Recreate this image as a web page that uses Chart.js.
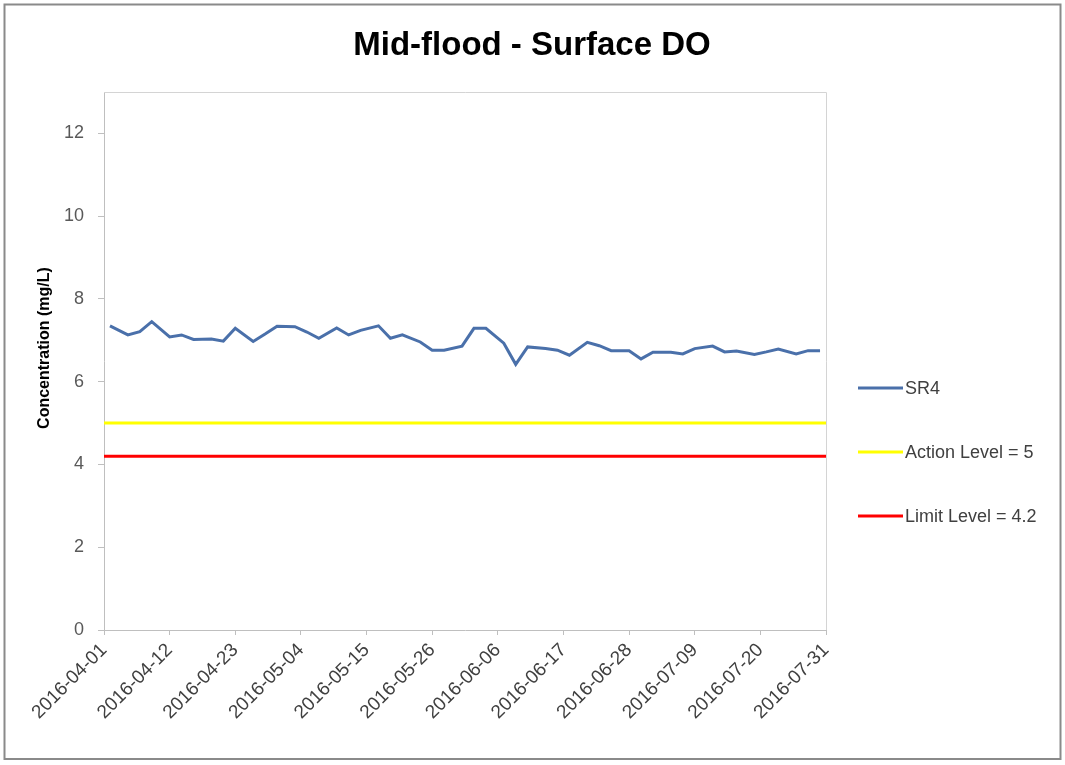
<!DOCTYPE html>
<html>
<head>
<meta charset="utf-8">
<title>Mid-flood - Surface DO</title>
<script src="https://cdn.jsdelivr.net/npm/chart.js@4.4.1/dist/chart.umd.min.js"></script>
<style>
    html, body { margin: 0; padding: 0; background: #fff; }
    #wrap { width: 1065px; height: 765px; }
</style>
</head>
<body>
<div id="wrap"><canvas id="doChart" width="1065" height="765"></canvas></div>
<script>
/* Mid-flood surface dissolved oxygen, station SR4 */

const sampleDates = [
    '2016-04-02', '2016-04-05', '2016-04-07', '2016-04-09', '2016-04-12', '2016-04-14',
    '2016-04-16', '2016-04-19', '2016-04-21', '2016-04-23', '2016-04-26', '2016-04-28',
    '2016-04-30', '2016-05-03', '2016-05-05', '2016-05-07', '2016-05-10', '2016-05-12',
    '2016-05-14', '2016-05-17', '2016-05-19', '2016-05-21', '2016-05-24', '2016-05-26',
    '2016-05-28', '2016-05-31', '2016-06-02', '2016-06-04', '2016-06-07', '2016-06-09',
    '2016-06-11', '2016-06-14', '2016-06-16', '2016-06-18', '2016-06-21', '2016-06-23',
    '2016-06-25', '2016-06-28', '2016-06-30', '2016-07-02', '2016-07-05', '2016-07-07',
    '2016-07-09', '2016-07-12', '2016-07-14', '2016-07-16', '2016-07-19', '2016-07-21',
    '2016-07-23', '2016-07-26', '2016-07-28', '2016-07-30'
];

const sr4Values = [
    7.35, 7.13, 7.21, 7.45, 7.08, 7.13, 7.02, 7.03, 6.98, 7.29,
    6.97, 7.15, 7.34, 7.33, 7.20, 7.05, 7.30, 7.13, 7.24, 7.35,
    7.05, 7.13, 6.96, 6.76, 6.76, 6.86, 7.29, 7.29, 6.93, 6.42,
    6.84, 6.80, 6.76, 6.64, 6.95, 6.87, 6.75, 6.75, 6.55, 6.71,
    6.71, 6.67, 6.80, 6.86, 6.72, 6.74, 6.66, 6.72, 6.79, 6.67,
    6.75, 6.75
];

const actionLevel = 5;
const limitLevel = 4.2;

const xTickLabels = [
    '2016-04-01', '2016-04-12', '2016-04-23', '2016-05-04', '2016-05-15', '2016-05-26',
    '2016-06-06', '2016-06-17', '2016-06-28', '2016-07-09', '2016-07-20', '2016-07-31'
];
const yTickValues = [0, 2, 4, 6, 8, 10, 12];

const FONT = "'Liberation Sans', Arial, sans-serif";
const DAY_MS = 86400000;
const startMs = Date.parse(xTickLabels[0]);

// days since the first axis date
function dayOf(dateStr) {
    return (Date.parse(dateStr) - startMs) / DAY_MS;
}

const xMin = dayOf(xTickLabels[0]);
const xMax = dayOf(xTickLabels[xTickLabels.length - 1]);

// frame, title, y title and the side legend
const decorPlugin = {
    id: 'decor',
    afterDraw(chart) {
        const ctx = chart.ctx;
        const area = chart.chartArea;
        ctx.save();

        // outer frame
        ctx.strokeStyle = '#8a8a8a';
        ctx.lineWidth = 2;
        ctx.strokeRect(4.5, 4.5, 1056, 754.5);

        // plot box top / right edges
        ctx.strokeStyle = '#d4d4d4';
        ctx.lineWidth = 1;
        ctx.beginPath();
        ctx.moveTo(area.left, area.top + 0.5);
        ctx.lineTo(area.right + 0.5, area.top + 0.5);
        ctx.lineTo(area.right + 0.5, area.bottom);
        ctx.stroke();

        // title
        ctx.fillStyle = '#000';
        ctx.font = 'bold 33px ' + FONT;
        ctx.textAlign = 'center';
        ctx.textBaseline = 'middle';
        ctx.fillText('Mid-flood - Surface DO', 532, 46);

        // y axis title
        ctx.save();
        ctx.translate(45, 348);
        ctx.rotate(-Math.PI / 2);
        ctx.font = 'bold 16px ' + FONT;
        ctx.fillText('Concentration (mg/L)', 0, 0);
        ctx.restore();

        // legend
        const rows = [388, 452, 516];
        ctx.font = '18px ' + FONT;
        ctx.textAlign = 'left';
        chart.data.datasets.forEach((ds, i) => {
            const y = rows[i];
            ctx.strokeStyle = ds.borderColor;
            ctx.lineWidth = 3;
            ctx.beginPath();
            ctx.moveTo(858, y);
            ctx.lineTo(903, y);
            ctx.stroke();
            ctx.fillStyle = '#404040';
            ctx.fillText(ds.label, 905, y + 1);
        });

        ctx.restore();
    }
};

const sr4Points = sampleDates.map((d, i) => ({ x: dayOf(d), y: sr4Values[i] }));

new Chart(document.getElementById('doChart'), {
    type: 'line',
    data: {
        datasets: [
            {
                label: 'SR4',
                data: sr4Points,
                borderColor: '#4a70aa',
                borderWidth: 3,
                pointRadius: 0,
                tension: 0
            },
            {
                label: 'Action Level = ' + actionLevel,
                data: [{ x: xMin, y: actionLevel }, { x: xMax, y: actionLevel }],
                borderColor: '#ffff00',
                borderWidth: 3,
                pointRadius: 0
            },
            {
                label: 'Limit Level = ' + limitLevel,
                data: [{ x: xMin, y: limitLevel }, { x: xMax, y: limitLevel }],
                borderColor: '#ff0000',
                borderWidth: 3,
                pointRadius: 0
            }
        ]
    },
    options: {
        responsive: false,
        animation: false,
        layout: { padding: { top: 92, right: 239, left: 0, bottom: 0 } },
        plugins: {
            legend: { display: false },
            title: { display: false },
            tooltip: { enabled: false }
        },
        scales: {
            x: {
                type: 'linear',
                min: xMin,
                max: xMax,
                afterBuildTicks: axis => {
                    axis.ticks = xTickLabels.map(l => ({ value: dayOf(l) }));
                },
                afterFit: scale => { scale.height = 135; },
                ticks: {
                    autoSkip: false,
                    minRotation: 45,
                    maxRotation: 45,
                    padding: 4,
                    color: '#404040',
                    font: { family: FONT, size: 19 },
                    callback: function (val) {
                        const hit = xTickLabels.find(l => dayOf(l) === val);
                        return hit || '';
                    }
                },
                grid: { drawOnChartArea: false, tickLength: 5, color: '#bfbfbf' },
                border: { color: '#bfbfbf', width: 1 }
            },
            y: {
                min: 0,
                max: 13,
                afterBuildTicks: axis => {
                    axis.ticks = yTickValues.map(v => ({ value: v }));
                },
                afterFit: scale => { scale.width = 104; },
                ticks: {
                    padding: 14,
                    color: '#595959',
                    font: { family: FONT, size: 18 }
                },
                grid: { drawOnChartArea: false, tickLength: 6, color: '#bfbfbf' },
                border: { color: '#bfbfbf', width: 1 }
            }
        }
    },
    plugins: [decorPlugin]
});
</script>
</body>
</html>
